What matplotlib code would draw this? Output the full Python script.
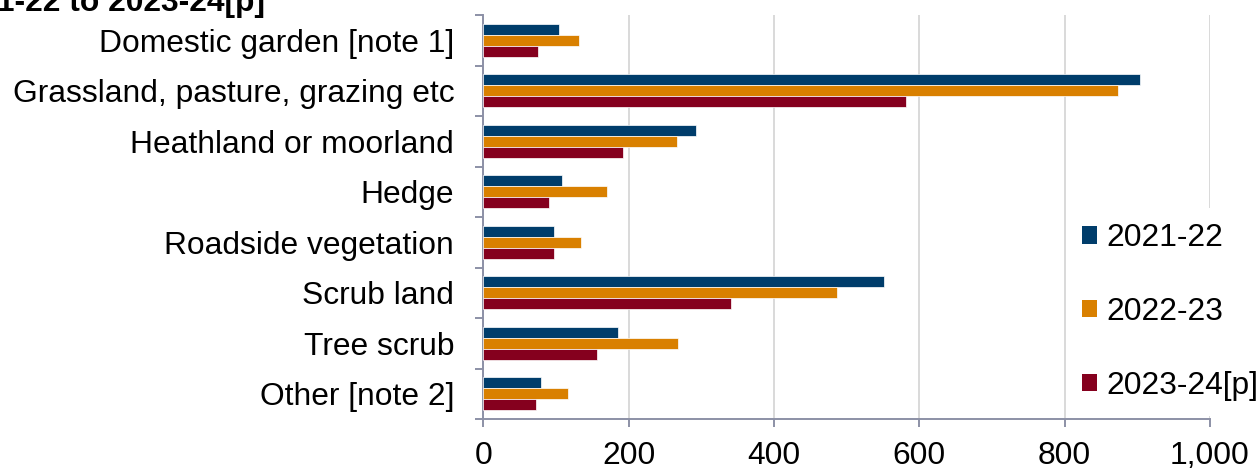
import matplotlib.pyplot as plt
import numpy as np

plt.rcParams['font.family'] = ['Liberation Sans', 'DejaVu Sans']

# land types, top to bottom
categories = ["Domestic garden [note 1]", "Grassland, pasture, grazing etc",
              "Heathland or moorland", "Hedge", "Roadside vegetation",
              "Scrub land", "Tree scrub", "Other [note 2]"]
years = ["2021-22", "2022-23", "2023-24[p]"]
fires_2122 = [104, 904, 293, 108, 97, 552, 185, 79]
fires_2223 = [132, 873, 266, 170, 134, 487, 268, 116]
fires_2324 = [75, 581, 192, 90, 97, 341, 156, 73]
colours = ["#003d6b", "#d98000", "#85001e"]

fs = 22.9

fig = plt.figure(figsize=(12.59, 4.71), dpi=100)
ax = fig.add_axes([483.3 / 1259, 1 - 419 / 471, (1210 - 483.3) / 1259, (419 - 15) / 471])

y = np.arange(len(categories))
h = 0.22
for i, vals in enumerate([fires_2122, fires_2223, fires_2324]):
    ax.barh(y + (i - 1) * h, vals, height=h, color=colours[i],
            edgecolor="white", linewidth=0.5, label=years[i], zorder=3)

ax.set_xlim(0, 1000)
ax.set_ylim(len(categories) - 0.5, -0.5)
ax.set_xticks(range(0, 1001, 200))
ax.set_xticklabels(["0", "200", "400", "600", "800", "1,000"])
ax.set_yticks(y)
ax.set_yticklabels(categories)
ax.set_yticks(np.arange(-0.5, len(categories)), minor=True)

axis_col = "#8c90a6"
for s in ["top", "right"]:
    ax.spines[s].set_visible(False)
for s in ["left", "bottom"]:
    ax.spines[s].set_color(axis_col)
    ax.spines[s].set_linewidth(1.4)
ax.xaxis.grid(True, color="#d9d9d9", linewidth=1.4, zorder=0)
ax.set_axisbelow(True)

ax.tick_params(axis="y", which="major", length=0, pad=21, labelsize=fs)
ax.tick_params(axis="y", which="minor", length=6, width=1.4, color=axis_col, direction="out")
ax.tick_params(axis="x", length=6, width=1.4, color=axis_col, pad=10, labelsize=fs)

leg = ax.legend(loc="center left", bbox_to_anchor=(1067 / 1259, 1 - 312 / 471),
                bbox_transform=fig.transFigure, fontsize=fs, frameon=True,
                fancybox=False, edgecolor="none", facecolor="white", framealpha=1,
                borderaxespad=0, borderpad=0.48, handlelength=0.47, handleheight=0.47,
                handletextpad=0.29, labelspacing=1.37)
for p in leg.get_patches():
    p.set_edgecolor("none")

# heading runs off the top-left corner
fig.text(265 / 1259, 1 - 11 / 471, "Figure 1: Grassland fires by land type, 2021-22 to 2023-24[p]",
         ha="right", va="baseline", fontsize=fs, fontweight="bold")

fig.savefig("out.png", dpi=100)
